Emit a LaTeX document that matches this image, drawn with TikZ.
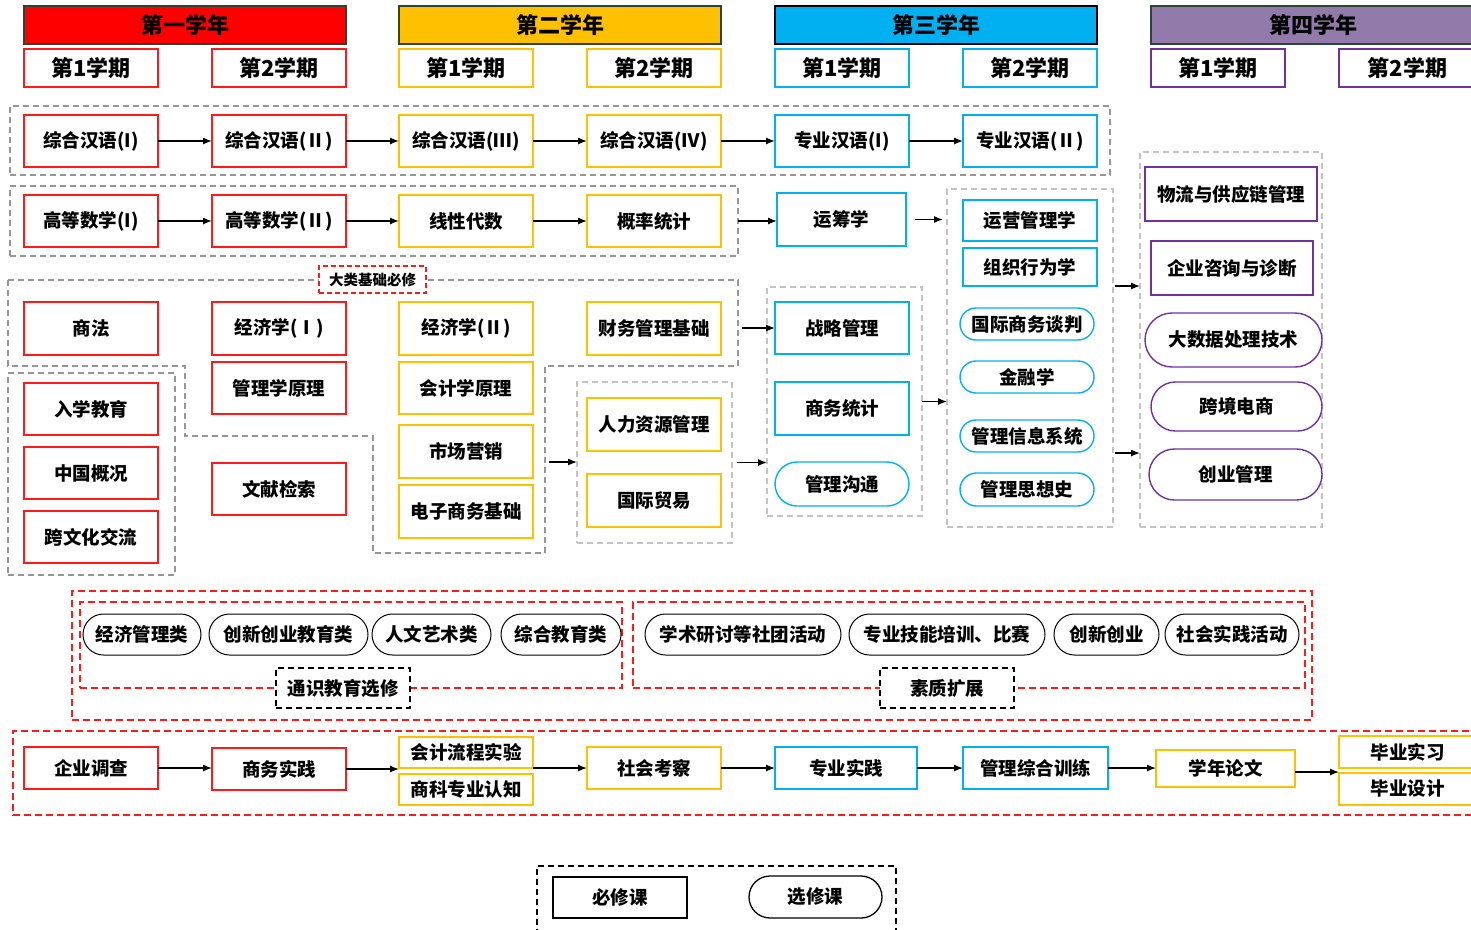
\documentclass[tikz,border=0pt]{standalone}
\usepackage{fontspec}
\setmainfont{Noto Sans CJK SC}
\usetikzlibrary{arrows.meta}
\definecolor{cred}{RGB}{255,25,25}
\definecolor{cyel}{RGB}{255,192,0}
\definecolor{ccya}{RGB}{0,176,240}
\definecolor{cpur}{RGB}{112,48,160}
\definecolor{hpur}{RGB}{146,122,170}
\definecolor{cgry}{RGB}{150,150,150}
\definecolor{lgry}{RGB}{195,195,195}
\definecolor{hdr}{RGB}{40,70,50}
\newcommand\fcrs{\bfseries\fontsize{18.5}{20}\selectfont}
\newcommand\fhdr{\bfseries\fontsize{22}{24}\selectfont}
\newcommand\fsml{\bfseries\fontsize{14.5}{16}\selectfont}
\newcommand\bx[7]{\node[#1, minimum width={(#5-#3)*1pt}, minimum height={(#6-#4)*1pt}] (#2) at ({(#3+#5)/2},{(#4+#6)/2}) {#7};}
\newcommand\pl[7]{\pgfmathsetmacro\rrad{(#6-#4)/2}\node[#1, rounded corners=\rrad pt, minimum width={(#5-#3)*1pt}, minimum height={(#6-#4)*1pt}] (#2) at ({(#3+#5)/2},{(#4+#6)/2}) {#7};}
\tikzset{
  base/.style={inner sep=0pt, outer sep=0pt, line width=1.4pt, fill=white, font=\fcrs, align=center, text=black},
  rb/.style={base, draw=cred},
  yb/.style={base, draw=cyel},
  cb/.style={base, draw=ccya},
  pb/.style={base, draw=cpur},
  kb/.style={base, draw=black, line width=1pt},
  hd/.style={base, draw=hdr, line width=1.3pt, font=\fhdr},
  sem/.style={font=\fhdr, line width=1.3pt},
  grp/.style={draw=cgry, line width=1.5pt, dash pattern=on 6pt off 4pt, inner sep=0pt, outer sep=0pt},
  lgrp/.style={grp, draw=lgry},
  rgrp/.style={draw=cred, line width=1.5pt, dash pattern=on 7pt off 4pt, inner sep=0pt, outer sep=0pt},
  kdash/.style={draw=black, line width=1.3pt, dash pattern=on 6pt off 4pt},
  arr/.style={-{Latex[length=9pt,width=7pt]}, line width=1.3pt, black}
}
\begin{document}
\begin{tikzpicture}[x=1pt, y=-1pt]
\clip (0,0) rectangle (1471,929);
\fill[white] (0,0) rectangle (1471,929);
% headers
\bx{hd, fill=red}{y1}{24}{6}{346}{44}{第一学年}
\bx{hd, fill=cyel}{y2}{399}{6}{721}{44}{第二学年}
\bx{hd, fill=ccya, draw=black}{y3}{775}{6}{1097}{44}{第三学年}
\bx{hd, fill=hpur}{y4}{1151}{6}{1476}{44}{第四学年}
\bx{rb, sem}{s11}{24}{49}{158}{87}{第1学期}
\bx{rb, sem}{s12}{212}{49}{346}{87}{第2学期}
\bx{yb, sem}{s21}{399}{49}{533}{87}{第1学期}
\bx{yb, sem}{s22}{587}{49}{721}{87}{第2学期}
\bx{cb, sem}{s31}{775}{49}{909}{87}{第1学期}
\bx{cb, sem}{s32}{963}{49}{1097}{87}{第2学期}
\bx{pb, sem}{s41}{1151}{49}{1285}{87}{第1学期}
\bx{pb, sem}{s42}{1339}{49}{1476}{87}{第2学期}
% groups
\bx{grp}{g1}{10}{106}{1110}{175}{}
\bx{grp}{g2}{10}{186}{738}{256}{}
\draw[grp] (8,280) -- (738,280) -- (738,366) -- (545,366) -- (545,553) -- (373,553) -- (373,436) -- (185,436) -- (185,366) -- (8,366) -- cycle;
\bx{grp}{gi}{8}{373}{175}{575}{}
\bx{lgrp}{ghr}{577}{382}{732}{543}{}
\bx{lgrp}{gst}{767}{287}{922}{516}{}
\bx{lgrp}{gop}{947}{189}{1113}{527}{}
\bx{lgrp}{gy4}{1140}{152}{1322}{527}{}
\bx{base, draw=cred, dash pattern=on 5pt off 3pt, line width=1.3pt, font=\fsml}{dl}{319}{266}{426}{293}{大类基础必修}
% row 1
\bx{rb}{a1}{24}{115}{158}{167}{综合汉语(I)}
\bx{rb}{a2}{212}{115}{346}{167}{综合汉语(Ⅱ)}
\bx{yb}{a3}{399}{115}{533}{167}{综合汉语(Ⅲ)}
\bx{yb}{a4}{587}{115}{721}{167}{综合汉语(Ⅳ)}
\bx{cb}{a5}{775}{115}{909}{167}{专业汉语(I)}
\bx{cb}{a6}{963}{115}{1097}{167}{专业汉语(Ⅱ)}
\draw[arr] (a1) -- (a2);
\draw[arr] (a2) -- (a3);
\draw[arr] (a3) -- (a4);
\draw[arr] (a4) -- (a5);
\draw[arr] (a5) -- (a6);
% row 2
\bx{rb}{b1}{24}{195}{158}{247}{高等数学(I)}
\bx{rb}{b2}{212}{195}{346}{247}{高等数学(Ⅱ)}
\bx{yb}{b3}{399}{195}{533}{247}{线性代数}
\bx{yb}{b4}{587}{195}{721}{247}{概率统计}
\bx{cb}{b5}{777}{193}{906}{246}{运筹学}
\draw[arr] (b1) -- (b2);
\draw[arr] (b2) -- (b3);
\draw[arr] (b3) -- (b4);
\draw[arr] (g2.east) -- (g2.east -| b5.west);
\draw[arr, shorten <=9pt, shorten >=4pt] (b5.east) -- (b5.east -| gop.west);
% row 3 block
\bx{rb}{c1}{24}{302}{158}{355}{商法}
\bx{rb}{c2}{212}{302}{346}{355}{经济学(Ⅰ)}
\bx{yb}{c3}{399}{302}{533}{355}{经济学(Ⅱ)}
\bx{yb}{c4}{587}{302}{721}{355}{财务管理基础}
\bx{rb}{c5}{212}{362}{346}{414}{管理学原理}
\bx{yb}{c6}{399}{362}{533}{414}{会计学原理}
\bx{yb}{c7}{399}{425}{533}{478}{市场营销}
\bx{yb}{c8}{399}{485}{533}{538}{电子商务基础}
\bx{rb}{c9}{212}{463}{346}{515}{文献检索}
\bx{rb}{d1}{24}{383}{158}{435}{入学教育}
\bx{rb}{d2}{24}{447}{158}{499}{中国概况}
\bx{rb}{d3}{24}{511}{158}{563}{跨文化交流}
\bx{yb}{e1}{587}{398}{721}{451}{人力资源管理}
\bx{yb}{e2}{587}{474}{721}{527}{国际贸易}
\bx{cb}{f1}{775}{302}{909}{354}{战略管理}
\bx{cb}{f2}{775}{382}{909}{435}{商务统计}
\pl{cb}{f3}{775}{462}{909}{506}{管理沟通}
\bx{cb}{h1}{963}{200}{1097}{241}{运营管理学}
\bx{cb}{h2}{963}{248}{1097}{286}{组织行为学}
\pl{cb}{h3}{960}{308}{1094}{340}{国际商务谈判}
\pl{cb}{h4}{960}{361}{1094}{393}{金融学}
\pl{cb}{h5}{960}{420}{1094}{452}{管理信息系统}
\pl{cb}{h6}{960}{473}{1094}{506}{管理思想史}
\bx{pb}{k1}{1145}{167}{1317}{221}{物流与供应链管理}
\bx{pb}{k2}{1151}{241}{1313}{295}{企业咨询与诊断}
\pl{pb}{k3}{1145}{313}{1322}{367}{大数据处理技术}
\pl{pb}{k4}{1151}{382}{1322}{431}{跨境电商}
\pl{pb}{k5}{1149}{449}{1322}{500}{创业管理}
\coordinate (dlr) at (738,328);
\coordinate (dlb) at (545,462);
\coordinate (o1) at (1113,286);
\coordinate (o2) at (1113,453);
\draw[arr, shorten <=4pt] (dlr) -- (dlr -| f1.west);
\draw[arr, shorten <=4pt] (dlb) -- (dlb -| ghr.west);
\draw[arr, shorten <=5pt] (ghr.east) -- (ghr.east -| gst.west);
\draw[arr] (gst.east) -- (gst.east -| gop.west);
\draw[arr, shorten <=2pt] (o1) -- (o1 -| gy4.west);
\draw[arr, shorten <=2pt] (o2) -- (o2 -| gy4.west);
% electives
\bx{rgrp}{eo}{72}{591}{1312}{720}{}
\bx{rgrp}{el}{80}{602}{622}{688}{}
\bx{rgrp}{er}{633}{602}{1305}{688}{}
\pl{kb}{m1}{83}{614}{201}{655}{经济管理类}
\pl{kb}{m2}{209}{614}{368}{655}{创新创业教育类}
\pl{kb}{m3}{372}{614}{491}{655}{人文艺术类}
\pl{kb}{m4}{501}{614}{621}{655}{综合教育类}
\pl{kb}{m5}{645}{614}{841}{655}{学术研讨等社团活动}
\pl{kb}{m6}{849}{614}{1045}{655}{专业技能培训、比赛}
\pl{kb}{m7}{1054}{614}{1159}{655}{创新创业}
\pl{kb}{m8}{1165}{614}{1299}{655}{社会实践活动}
\bx{base, kdash}{l1}{276}{668}{410}{708}{通识教育选修}
\bx{base, kdash}{l2}{880}{668}{1014}{708}{素质扩展}
% practice row
\draw[rgrp] (1480,731) -- (13,731) -- (13,815) -- (1480,815);
\bx{rb}{p1}{24}{747}{158}{789}{企业调查}
\bx{rb}{p2}{212}{748}{346}{790}{商务实践}
\bx{yb}{p3}{399}{737}{533}{768}{会计流程实验}
\bx{yb}{p4}{399}{774}{533}{805}{商科专业认知}
\bx{yb}{p5}{587}{747}{721}{789}{社会考察}
\bx{cb}{p6}{775}{747}{917}{789}{专业实践}
\bx{cb}{p7}{963}{747}{1108}{789}{管理综合训练}
\bx{yb}{p8}{1156}{750}{1295}{787}{学年论文}
\bx{yb}{p9}{1339}{736}{1476}{768}{毕业实习}
\bx{yb}{p10}{1339}{773}{1476}{805}{毕业设计}
\coordinate (bj) at (1339,772);
\draw[arr] (p1.east) -- (p1.east -| p2.west);
\draw[arr] (p2.east) -- (p2.east -| p3.west);
\draw[arr] (p5.west -| p3.east) -- (p5.west);
\draw[arr] (p5.east) -- (p5.east -| p6.west);
\draw[arr] (p6.east) -- (p6.east -| p7.west);
\draw[arr] (p7.east) -- (p7.east -| p8.west);
\draw[arr] (p8.east |- bj) -- (bj);
% legend
\draw[kdash] (537,935) -- (537,866) -- (896,866) -- (896,935);
\bx{kb, line width=1.3pt}{q1}{553}{877}{687}{918}{必修课}
\pl{kb, line width=1.3pt}{q2}{749}{876}{882}{918}{选修课}
\end{tikzpicture}
\end{document}
